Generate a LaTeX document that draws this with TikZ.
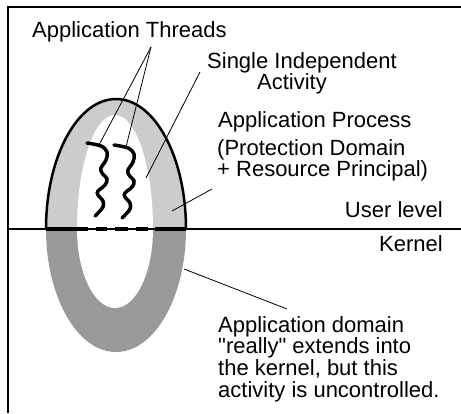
\documentclass[tikz,border=0pt]{standalone}
\usepackage{fontspec}
\setmainfont{Liberation Sans}[Ligatures=TeXOff]
\usepackage{tikz}
\definecolor{ProcGray}{HTML}{CCCCCC}
\definecolor{KernGray}{HTML}{999999}

\begin{document}
\begin{tikzpicture}[x=1pt, y=1pt,
                    every node/.style={inner sep=0pt, font=\fontsize{22}{21.7}\selectfont},
                    leader/.style={draw=black, line width=0.8pt},
                    thread/.style={draw=black, line width=3.5pt, line cap=round}]
\useasboundingbox (0,0) rectangle (461,413);
% frame and user/kernel boundary
\draw[line width=2pt] (8,0) -- (8,406) -- (461,406);
\fill[ProcGray] (46,184) arc[start angle=180, end angle=0, x radius=70, y radius=130] -- cycle;
\fill[KernGray] (46,184) arc[start angle=180, end angle=360, x radius=70, y radius=123] -- cycle;
\fill[white] (77,184) arc[start angle=180, end angle=0, x radius=38, y radius=114] -- cycle;
\fill[white] (77,184) arc[start angle=180, end angle=360, x radius=38, y radius=79] -- cycle;
\draw[line width=2.5pt] (46,184) arc[start angle=180, end angle=0, x radius=70, y radius=130];
\draw[line width=1.5pt] (8,184) -- (461,184);
\foreach \a/\b in {46/88, 96/107, 115/128, 136/148, 155/186}
  \draw[line width=3.5pt] (\a,184) -- (\b,184);
% threads
\foreach \dx/\dy in {0/0, 27/-2}
  \draw[thread, shift={(\dx,\dy)}] plot[smooth, tension=0.6] coordinates
    {(87,270) (101,267) (107,261) (106,253) (101,245) (102,240) (107,234) (105,228)
     (98,222) (98,218) (103,212) (103,206) (99,201) (95,197)};
% labels
\node[anchor=base west] (threads) at (32,375) {Application Threads};
\node[anchor=north, align=center] (activity) at (302,361) {Single Independent\\Activity\hspace*{20pt}};
\node[anchor=base west] (process) at (218,285) {Application Process};
\node[anchor=north west, align=left] (principal) at (217,274) {(Protection Domain\\+ Resource Principal)};
\node[anchor=base east] (userlvl) at (443,195) {User level};
\node[anchor=base east] (kernel) at (443,161) {Kernel};
\node[anchor=north west, align=left] (domain) at (218,97)
  {Application domain\\"really" extends into\\the kernel, but this\\activity is uncontrolled.};
% leaders
\coordinate (thrtip) at (151,366);
\coordinate (thrA) at (99,268);
\coordinate (thrB) at (126,266);
\coordinate (acttip) at (200,341);
\coordinate (actend) at (146,235);
\coordinate (proctip) at (212,224);
\coordinate (procend) at (172,202);
\coordinate (domtip) at (287,104);
\coordinate (domend) at (184,144);
\draw[leader] (thrtip) -- (thrA);
\draw[leader] (thrtip) -- (thrB);
\draw[leader] (acttip) -- (actend);
\draw[leader] (proctip) -- (procend);
\draw[leader] (domtip) -- (domend);
\end{tikzpicture}
\end{document}
